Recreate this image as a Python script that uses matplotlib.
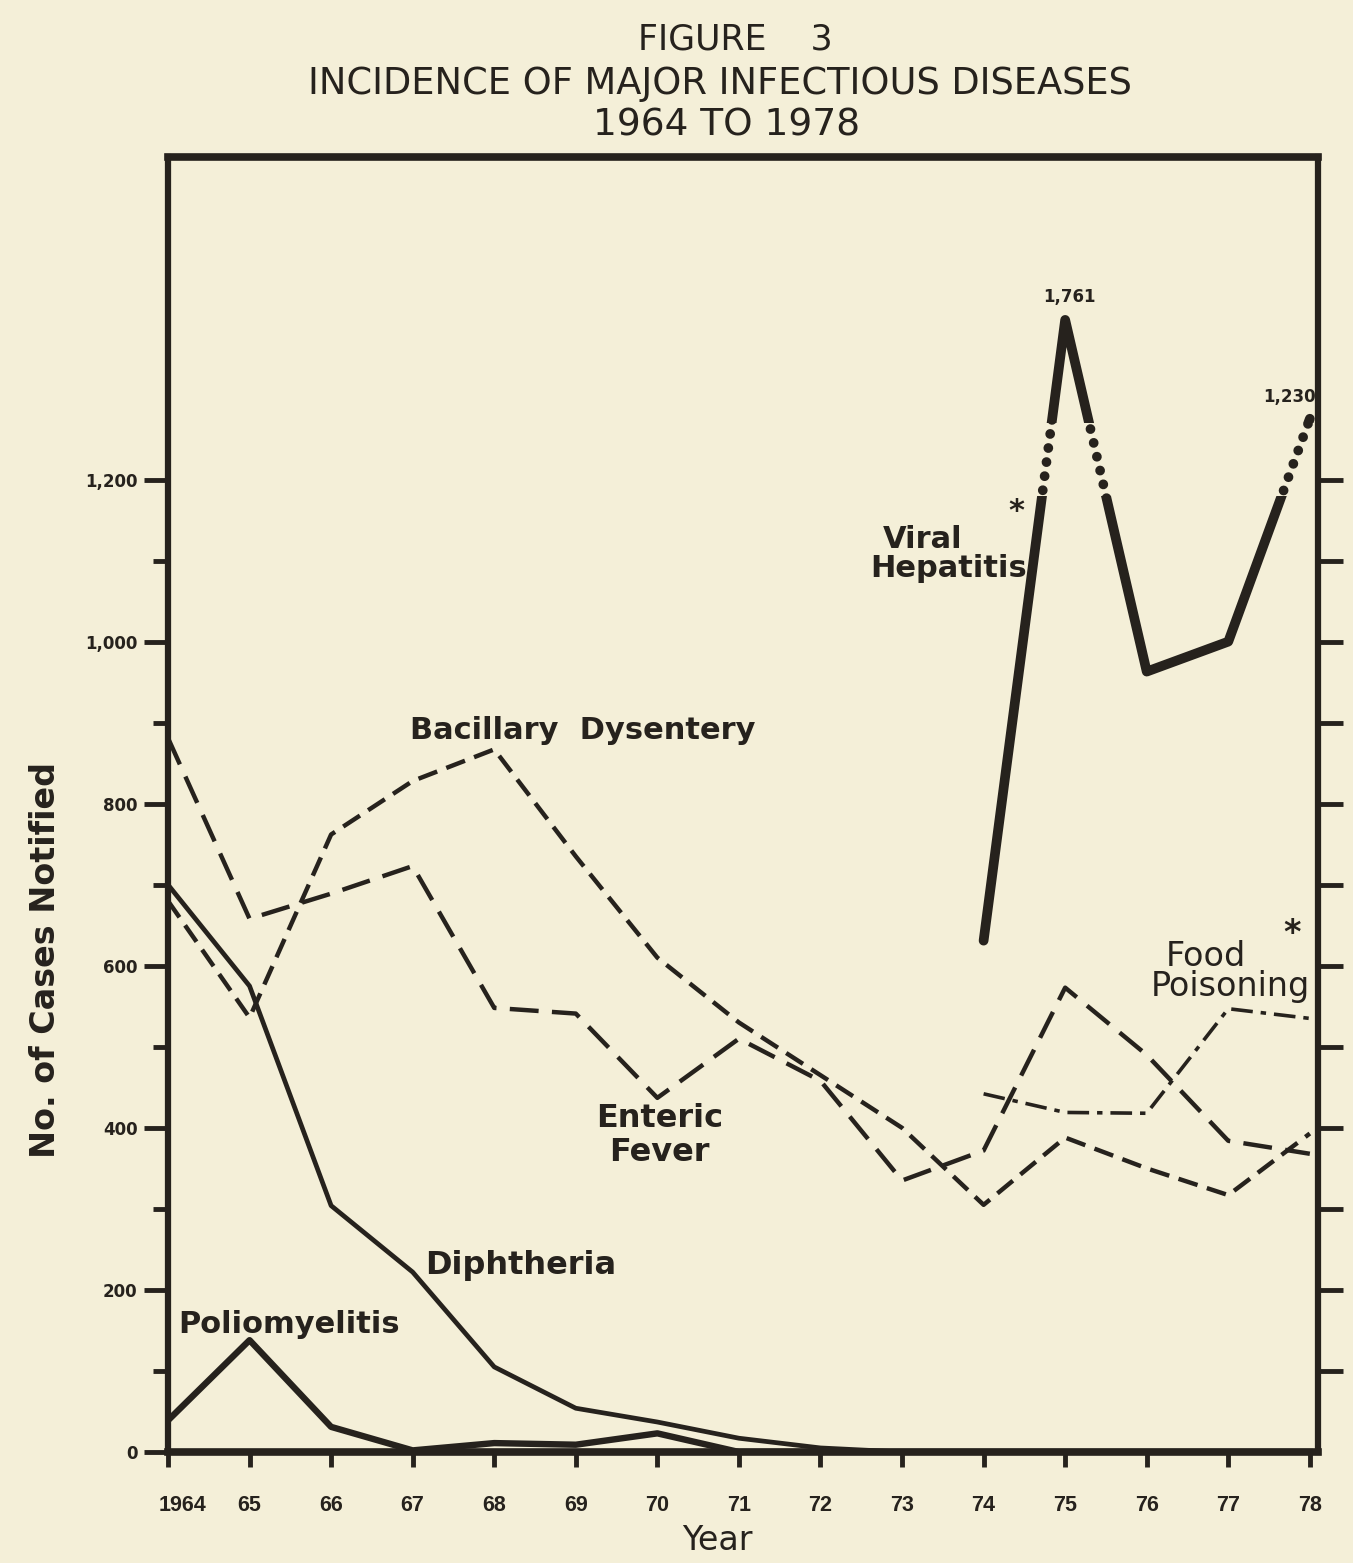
import matplotlib
matplotlib.use("Agg")
import matplotlib.pyplot as plt
from matplotlib.patches import Rectangle
from matplotlib.transforms import ScaledTranslation

plt.rcParams['font.family'] = ['DejaVu Sans']

# ---------------- data ----------------
years = list(range(1964, 1979))
year_labels = ["1964"] + [str(y)[2:] for y in years[1:]]

bacillary_dysentery = [680, 536, 762, 828, 867, 735, 610, 530, 465, 400, 305, 388, 350, 317, 393]
enteric_fever = [881, 658, 689, 723, 548, 541, 437, 510, 458, 335, 372, 573, 490, 384, 368]
diphtheria = [700, 575, 304, 222, 105, 54, 37, 17, 5, 0, 0, 0, 0, 0, 0]
poliomyelitis = [39, 138, 31, 2, 11, 9, 23, 0, 0, 0, 0, 0, 0, 0, 0]

hep_years = [1974, 1975, 1976, 1977, 1978]
viral_hepatitis = [631, 1397, 963, 1000, 1275]   # plotted height (scale broken above ~1180)
hep_labels = {1975: "1,761", 1978: "1,230"}

food_years = [1974, 1975, 1976, 1977, 1978]
food_poisoning = [442, 419, 418, 547, 535]

y_major = [0, 200, 400, 600, 800, 1000, 1200]
y_major_labels = ["0", "200", "400", "600", "800", "1,000", "1,200"]
y_minor = [100, 300, 500, 700, 900, 1100]
right_ticks = [100, 200, 300, 400, 500, 600, 700, 800, 900, 1000, 1100, 1200]

break_low, break_high = 1180, 1270

# ---------------- figure ----------------
W, H = 1353, 1563
bg = "#f4efd8"
ink = "#26221d"
fig = plt.figure(figsize=(W / 100, H / 100), dpi=100, facecolor=bg)
ax = fig.add_axes([168 / W, 1 - 1452 / H, 1150 / W, 1295 / H], facecolor=bg)
ax.set_xlim(1964, 1978.1)
ax.set_ylim(0, 1598)

for s in ax.spines.values():
    s.set_linewidth(4.5)
    s.set_color(ink)
ax.spines['top'].set_linewidth(5.5)
ax.spines['bottom'].set_linewidth(5.5)

# series
ax.plot(years, bacillary_dysentery, color=ink, lw=3.2, linestyle=(0, (4.5, 2.2)), zorder=3)
ax.plot(years, enteric_fever, color=ink, lw=3.2, linestyle=(0, (6.5, 3.0)), zorder=3)
ax.plot(years, diphtheria, color=ink, lw=3.4, solid_joinstyle='round', zorder=3)
ax.plot(years, poliomyelitis, color=ink, lw=4.6, solid_joinstyle='round', zorder=3)
ax.plot(food_years, food_poisoning, color=ink, lw=2.6, linestyle=(0, (6, 2.2, 1.5, 2.2)), zorder=3)

# viral hepatitis: solid outside the scale-break band, dotted inside it
r_low = Rectangle((1960, -100), 30, break_low + 100, transform=ax.transData)
r_high = Rectangle((1960, break_high), 30, 1000, transform=ax.transData)
r_mid = Rectangle((1960, break_low), 30, break_high - break_low, transform=ax.transData)
for rect, ls in ((r_low, '-'), (r_high, '-'), (r_mid, (0, (0.01, 1.45)))):
    ln, = ax.plot(hep_years, viral_hepatitis, color=ink, lw=7, linestyle=ls,
                  dash_capstyle='round', solid_capstyle='round', solid_joinstyle='round',
                  zorder=4)
    ln.set_clip_path(rect)

ax.annotate(hep_labels[1975], (1975, viral_hepatitis[1]), xytext=(3, 10),
            textcoords='offset points', ha='center', va='bottom', fontsize=12,
            fontweight='bold', color=ink)
ax.annotate(hep_labels[1978], (1978, viral_hepatitis[4]), xytext=(4, 9),
            textcoords='offset points', ha='right', va='bottom', fontsize=12,
            fontweight='bold', color=ink)

# ticks
ax.set_xticks(years)
ax.set_xticklabels(year_labels)
ax.tick_params(axis='x', direction='out', length=11, width=3.5, color=ink, pad=20,
               labelcolor=ink)
for lab in ax.get_xticklabels():
    lab.set_fontweight('bold')
    lab.set_fontfamily('Liberation Sans')
    lab.set_fontsize(15.5)
first = ax.get_xticklabels()[0]
first.set_transform(first.get_transform() + ScaledTranslation(0.15, 0, fig.dpi_scale_trans))

ax.set_yticks(y_major)
ax.set_yticklabels(y_major_labels)
ax.set_yticks(y_minor, minor=True)
ax.tick_params(axis='y', which='major', direction='out', length=17, width=3.5, color=ink,
               pad=5, labelsize=12, labelcolor=ink)
ax.tick_params(axis='y', which='minor', direction='out', length=11, width=3.5, color=ink)
for lab in ax.get_yticklabels():
    lab.set_fontweight('bold')

# right-hand outward ticks (no labels)
axr = ax.twinx()
axr.set_ylim(ax.get_ylim())
axr.set_yticks(right_ticks)
axr.set_yticklabels([])
axr.tick_params(axis='y', direction='out', length=18, width=3.5, color=ink)
for s in axr.spines.values():
    s.set_visible(False)

# axis labels
fig.text(46 / W, 1 - 960 / H, "No. of Cases Notified", rotation=90, ha='center', va='center',
         fontsize=24, fontweight='bold', color=ink)
fig.text(717 / W, 1 - 1541 / H, "Year", ha='center', va='center', fontsize=24, color=ink)

# titles
fig.text(735 / W, 1 - 40 / H, "FIGURE    3", ha='center', va='center', fontsize=25, color=ink)
fig.text(720 / W, 1 - 83 / H, "INCIDENCE OF MAJOR INFECTIOUS DISEASES", ha='center',
         va='center', fontsize=26.5, color=ink)
fig.text(727 / W, 1 - 125 / H, "1964 TO 1978", ha='center', va='center', fontsize=27, color=ink)

# series labels
lab_kw = dict(fontsize=22, fontweight='bold', color=ink)
ax.text(1969.09, 890, "Bacillary  Dysentery", ha='center', va='center', **lab_kw)
ax.text(1970.03, 411, "Enteric", ha='center', va='center', fontsize=23, fontweight='bold',
        color=ink)
ax.text(1970.03, 370, "Fever", ha='center', va='center', fontsize=23, fontweight='bold',
        color=ink)
ax.text(1967.15, 230, "Diphtheria", ha='left', va='center', fontsize=23, fontweight='bold',
        color=ink)
ax.text(1964.12, 157, "Poliomyelitis", ha='left', va='center', **lab_kw)
ax.text(1973.25, 1126, "Viral", ha='center', va='center', **lab_kw)
ax.text(1974.53, 1090, "Hepatitis", ha='right', va='center', **lab_kw)
ax.text(1974.4, 1160, "*", ha='center', va='center', **lab_kw)
ax.text(1976.72, 612, "Food", ha='center', va='center', fontsize=24, color=ink)
ax.text(1978.0, 575, "Poisoning", ha='right', va='center', fontsize=24, color=ink)
ax.text(1977.78, 640, "*", ha='center', va='center', fontsize=24, fontweight='bold', color=ink)

fig.savefig("out.png", dpi=100, facecolor=bg)
